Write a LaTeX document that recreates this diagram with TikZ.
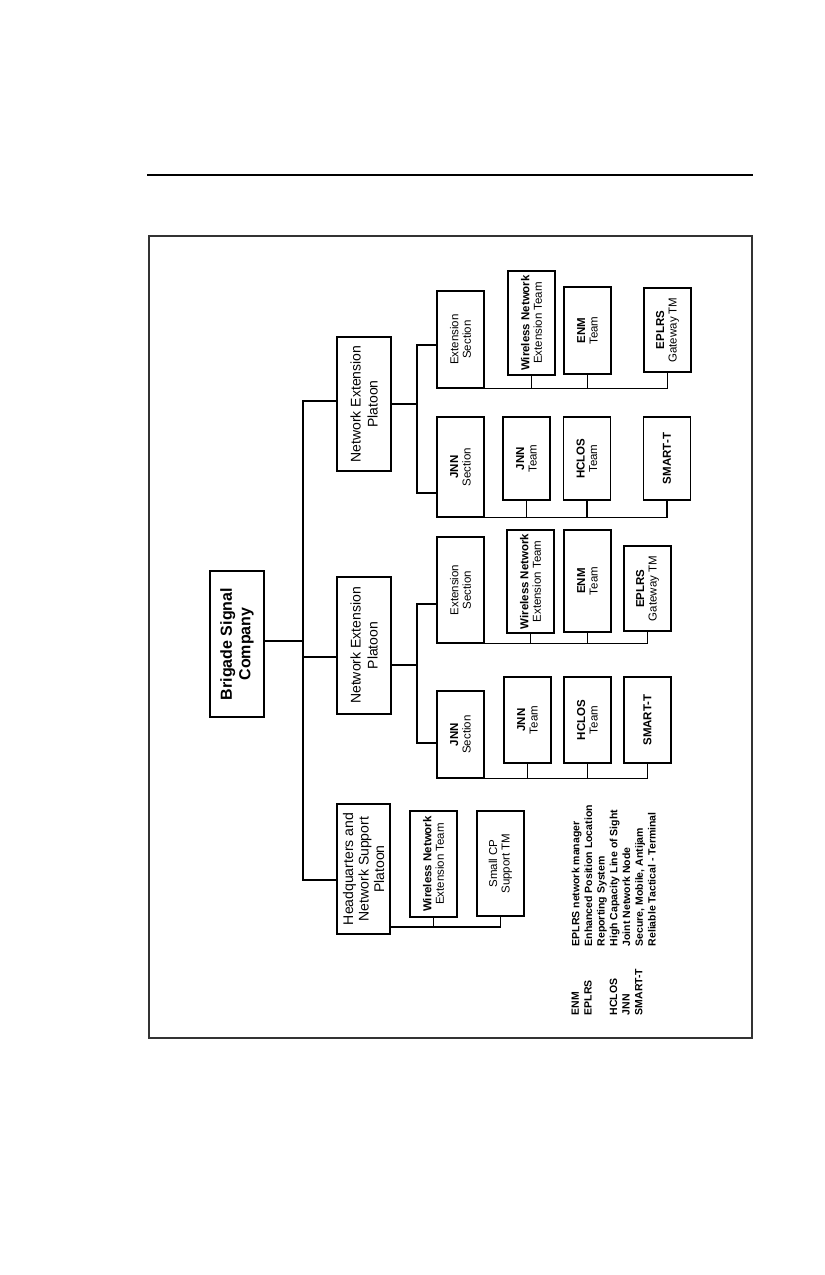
\documentclass[tikz,border=0pt]{standalone}
\usepackage{fontspec}
\setmainfont{Liberation Sans}
\usepackage{tikz}
\usetikzlibrary{positioning}
\def \NEP {Network Extension\\Platoon}
\def \WNET {\textbf{Wireless Network}\\Extension Team}

\begin{document}
\begin{tikzpicture}[
	  x=1pt, y=-1pt,
	  line width=1.4pt,
	  company/.style={
	  	rectangle,
	  	draw,
	  	rotate=90,
	  	align=center,
	  	inner sep=2pt,
	  	font=\fontsize{16}{18.5}\selectfont\bfseries
	  },
	  platoon/.style={
		  rectangle,
		  draw,
		  rotate=90,
		  align=center,
		  inner sep=2pt,
		  minimum height=54pt,
		  font=\fontsize{14}{17}\selectfont
	  },
	  section/.style={
		  rectangle,
		  draw,
		  rotate=90,
		  align=center,
		  inner sep=2pt,
		  minimum height=47pt,
		  font=\fontsize{11.5}{12.5}\selectfont
	  },
	  legend/.style={
		  rotate=90,
		  inner sep=0pt,
		  align=left,
		  anchor=north west,
		  font=\fontsize{10.5}{12.7}\selectfont\bfseries
	  }]
	\useasboundingbox (0,0) rectangle (825,1275);
	\draw[line width=2pt] (147,175) -- (753,175);
	\draw[line width=2pt, black!80] (149,236) rectangle (752,1038);
	% Root
	\node[company, minimum width=146pt, minimum height=54pt] (brigade) at (237,644) {Brigade Signal\\Company};
	% Platoons
	\node[platoon, minimum width=134pt] (nepA) at (364,404) {\NEP};
	\node[platoon, minimum width=137pt] (nepB) at (364,645.5) {\NEP};
	\node[platoon, minimum width=130pt, minimum height=53pt, font=\fontsize{14}{15.5}\selectfont] (hq) at (363.5,869) {Headquarters and\\Network Support\\Platoon};
	% Sections and teams, upper platoon
	\node[section, minimum width=97pt] (extA) at (460.5,339.5) {Extension\\Section};
	\node[section, minimum width=104pt] (wnetA) at (531.5,323) {\WNET};
	\node[section, minimum width=87pt] (enmA) at (587.5,330.5) {\textbf{ENM}\\Team};
	\node[section, minimum width=84pt] (eplrsA) at (667.5,330) {\textbf{EPLRS}\\Gateway TM};
	\node[section, minimum width=100pt] (jnnA) at (460.5,467) {\textbf{JNN}\\Section};
	\node[section, minimum width=83pt] (jnntA) at (526.5,458.5) {\textbf{JNN}\\Team};
	\node[section, minimum width=83pt] (hclosA) at (587,458.5) {\textbf{HCLOS}\\Team};
	\node[section, minimum width=83pt] (smartA) at (667,458.5) {\textbf{SMART-T}};
	% Sections and teams, middle platoon
	\node[section, minimum width=106pt] (extB) at (460.5,590) {Extension\\Section};
	\node[section, minimum width=103pt] (wnetB) at (530.5,581.5) {\WNET};
	\node[section, minimum width=102pt] (enmB) at (587.5,581) {\textbf{ENM}\\Team};
	\node[section, minimum width=85pt] (eplrsB) at (647.5,588.5) {\textbf{EPLRS}\\Gateway TM};
	\node[section, minimum width=87pt] (jnnB) at (460.5,734.5) {\textbf{JNN}\\Section};
	\node[section, minimum width=86pt] (jnntB) at (527.5,720) {\textbf{JNN}\\Team};
	\node[section, minimum width=86pt] (hclosB) at (587.5,720) {\textbf{HCLOS}\\Team};
	\node[section, minimum width=86pt] (smartB) at (647.5,720) {\textbf{SMART-T}};
	% HQ teams
	\node[section, minimum width=106pt] (wnethq) at (433.5,864) {\WNET};
	\node[section, minimum width=105pt] (smallcp) at (500.5,863.5) {Small CP\\Support TM};
	% Legend
	\node[legend] (abbr) at (571,1016) {ENM\\EPLRS\\[12.7pt]HCLOS\\JNN\\SMART-T};
	\node[legend, above=69pt of abbr.north west, anchor=north west] (meaning) {EPLRS network manager\\Enhanced Position Location\\Reporting System\\High Capacity Line of Sight\\Joint Network Node\\Secure, Mobile, Antijam\\Reliable Tactical - Terminal};
	% Company to platoons
	\coordinate (trunk) at (303,0);
	\coordinate (brigadeout) at ([yshift=3pt]brigade.south);
	\coordinate (nepAin) at ([yshift=3pt]nepA.north);
	\coordinate (nepBin) at ([yshift=-11.5pt]nepB.north);
	\coordinate (hqin) at ([yshift=-11pt]hq.north);
	\draw (brigadeout) -- (brigadeout -| trunk);
	\draw (nepAin) -| (hqin -| trunk) -- (hqin);
	\draw (nepBin) -- (nepBin -| trunk);
	% Platoons to sections
	\coordinate (fork) at (417,0);
	\coordinate (extAin) at ([yshift=-5.5pt]extA.north);
	\coordinate (jnnAin) at ([yshift=-26pt]jnnA.north);
	\draw (nepA.south) -- (nepA.south -| fork);
	\draw (extAin) -| (jnnAin -| fork) -- (jnnAin);
	\coordinate (nepBout) at ([yshift=-19.5pt]nepB.south);
	\coordinate (extBin) at ([yshift=-14pt]extB.north);
	\coordinate (jnnBin) at ([yshift=-8.5pt]jnnB.north);
	\draw (nepBout) -- (nepBout -| fork);
	\draw (extBin) -| (jnnBin -| fork) -- (jnnBin);
	% Sections to teams
	\draw (extA.south west) -- (eplrsA.west |- extA.south west);
	\foreach \t in {wnetA, enmA, eplrsA}
		\draw (\t.west) -- (\t.west |- extA.south west);
	\draw (jnnA.south west) -- (smartA.west |- jnnA.south west);
	\foreach \t in {jnntA, hclosA, smartA}
		\draw (\t.west) -- (\t.west |- jnnA.south west);
	\draw (extB.south west) -- (eplrsB.west |- extB.south west);
	\foreach \t in {wnetB, enmB, eplrsB}
		\draw (\t.west) -- (\t.west |- extB.south west);
	\draw (jnnB.south west) -- (smartB.west |- jnnB.south west);
	\foreach \t in {jnntB, hclosB, smartB}
		\draw (\t.west) -- (\t.west |- jnnB.south west);
	% HQ platoon to teams
	\coordinate (hqbus) at ([yshift=-58pt]hq.south);
	\draw (hqbus) -- (smallcp.west |- hqbus);
	\foreach \t in {wnethq, smallcp}
		\draw (\t.west) -- (\t.west |- hqbus);
\end{tikzpicture}
\end{document}
